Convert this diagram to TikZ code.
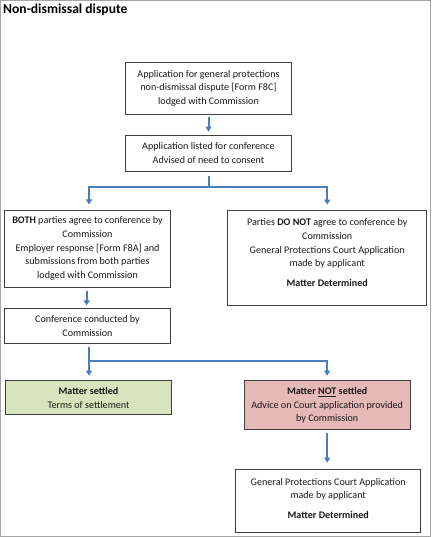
\documentclass[tikz,border=0pt]{standalone}
\usepackage{fontspec}
\setmainfont{Carlito}
\usetikzlibrary{positioning,calc,arrows.meta}
\definecolor{lnk}{HTML}{4A7EBB}
\definecolor{frm}{HTML}{A6A6A6}
\definecolor{okay}{HTML}{D7E4BD}
\definecolor{nook}{HTML}{E6B9B8}

\begin{document}
\begin{tikzpicture}[x=1pt, y=-1pt,
  font=\fontsize{10.1}{13.8}\selectfont,
  stage/.style={draw=black!75, line width=0.8pt, align=center, inner sep=2pt, text=black!90},
  link/.style={draw=lnk, line width=2pt},
  arr/.style={link, -{Triangle[width=6pt,length=5pt]}}]
\useasboundingbox (0,0) rectangle (431,537);
\draw[frm, line width=1.2pt] (0.8,0.8) rectangle (430.2,536.2);
\node[anchor=north west, font=\fontsize{13.6}{15}\selectfont\bfseries, inner sep=0pt] (title) at (3,3.5) {Non-dismissal dispute};
% lodging and listing
\node[stage, minimum width=166pt, minimum height=52pt] (lodge) at (208.5,88.2)
  {Application for general protections\\non-dismissal dispute [Form F8C]\\lodged with Commission};
\node[stage, minimum width=166pt, minimum height=36pt] (listed) at (208.5,153)
  {Application listed for conference\\Advised of need to consent};
% consent or not
\node[stage, minimum width=166pt, minimum height=77pt] (agree) at (87.5,248.4)
  {\textbf{BOTH} parties agree to conference by\\Commission\\Employer response [Form F8A] and\\submissions from both parties\\lodged with Commission};
\node[stage, minimum width=199pt, minimum height=95pt] (noagree) at (327.2,257.5)
  {Parties \textbf{DO NOT} agree to conference by\\Commission\\General Protections Court Application\\made by applicant\\[6pt]\textbf{Matter Determined}\\[-4pt]\mbox{}};
\node[stage, minimum width=166pt, minimum height=35pt] (conf) at (87.5,326)
  {Conference conducted by\\Commission};
% outcomes
\node[stage, fill=okay, minimum width=166pt, minimum height=34pt] (settled) at (88.5,397.8)
  {\textbf{Matter settled}\\Terms of settlement};
\node[stage, fill=nook, minimum width=166pt, minimum height=49pt] (unsettled) at (327.2,405.3)
  {\textbf{Matter \underline{NOT} settled}\\Advice on Court application provided\\by Commission};
\node[stage, minimum width=185pt, minimum height=63pt] (court) at (328.2,501.3)
  {General Protections Court Application\\made by applicant\\[6pt]\textbf{Matter Determined}\\[-8pt]\mbox{}};
% connectors
\coordinate (fork1) at (208.5,187.3);
\coordinate (fork2) at (89,361.3);
\draw[arr, shorten <=2.5pt, shorten >=3pt] (lodge) -- (listed);
\draw[link, shorten <=5pt] (listed) -- (fork1);
\draw[arr, shorten >=5pt] (fork1) -| (agree.north -| 89,0);
\draw[arr, shorten >=5pt] (fork1) -| (noagree);
\draw[arr, shorten <=4pt, shorten >=2.7pt] (agree.south -| 86.7,0) -- (conf.north -| 86.7,0);
\draw[link, shorten <=3.4pt] (conf.south -| 89,0) -- (fork2);
\draw[arr, shorten >=4.7pt] (fork2) -- (settled.north -| fork2);
\draw[arr, shorten >=4.7pt] (fork2) -| (unsettled);
\draw[arr, shorten <=3pt, shorten >=6.7pt] (unsettled) -- (unsettled |- court.north);
\end{tikzpicture}
\end{document}
